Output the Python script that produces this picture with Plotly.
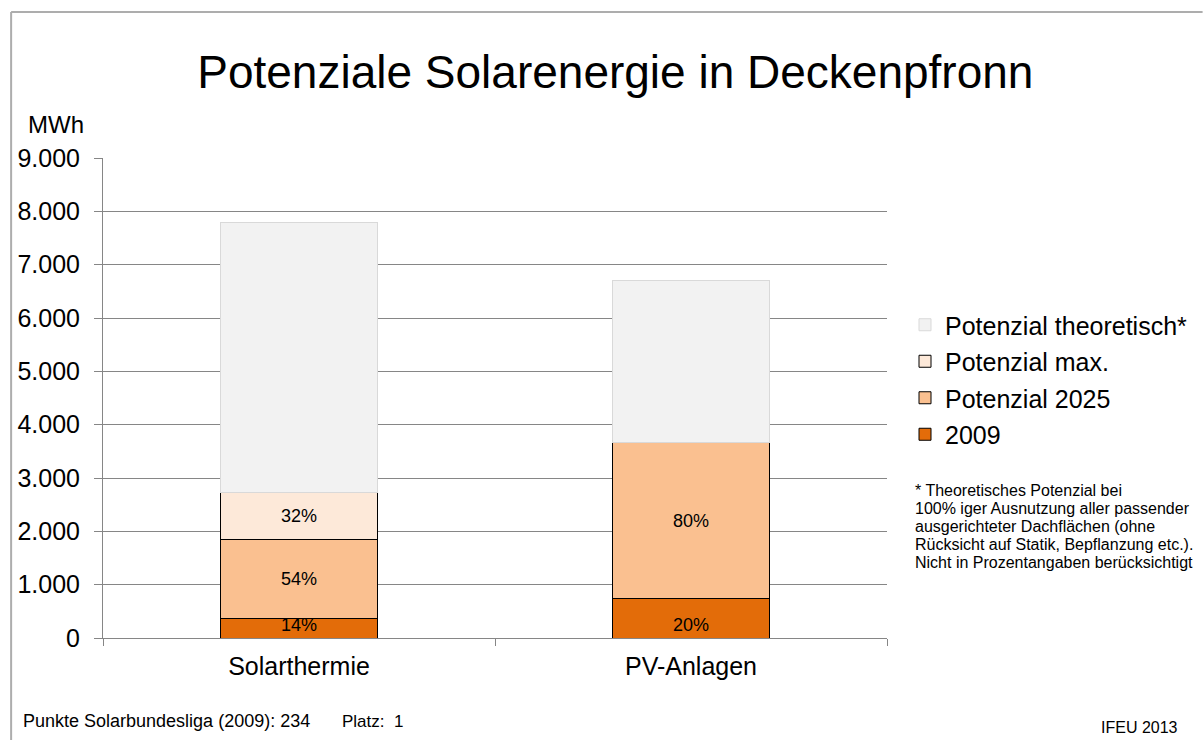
import plotly.graph_objects as go

categories = ["Solarthermie", "PV-Anlagen"]
v2009 = [370, 732]
v2025 = [1486, 2930]
vmax = [869, 0]
vtheo = [5063, 3032]
lbl2009 = ["14%", "20%"]
lbl2025 = ["54%", "80%"]
lblmax = ["32%", ""]
y_ticks = [0, 1000, 2000, 3000, 4000, 5000, 6000, 7000, 8000, 9000]
foot_lines = ["* Theoretisches Potenzial bei",
              "100% iger Ausnutzung aller passender",
              "ausgerichteter Dachflächen (ohne",
              "Rücksicht auf Statik, Bepflanzung etc.).",
              "Nicht in Prozentangaben berücksichtigt"]

FONT = "Liberation Sans, Arial, sans-serif"

W, H = 1204, 740
L, R, T, B = 103, 888, 158, 638
pw, ph = R - L, B - T


def px(x):
    return (x - L) / pw


def py(y):
    return (B - y) / ph


fig = go.Figure()
common = dict(width=0.4, textposition="inside", textangle=0, constraintext="none",
              textfont=dict(family=FONT, size=18, color="#000000"),
              insidetextanchor="middle", hoverinfo="skip")
fig.add_trace(go.Bar(x=categories, y=v2009, name="2009", text=lbl2009,
                     marker=dict(color="#E36C09", line=dict(color="#000000", width=1)),
                     legendgroup="a", legendrank=4,
                     **{**common, "insidetextanchor": "start"}))
fig.add_trace(go.Bar(x=categories, y=v2025, name="Potenzial 2025", text=lbl2025,
                     marker=dict(color="#FAC090", line=dict(color="#000000", width=1)),
                     legendgroup="b", legendrank=3, **common))
fig.add_trace(go.Bar(x=categories, y=vmax, name="Potenzial max.", text=lblmax,
                     marker=dict(color="#FDE9D9", line=dict(color="#000000", width=1)),
                     legendgroup="c", legendrank=2, **common))
fig.add_trace(go.Bar(x=categories, y=vtheo, name="Potenzial theoretisch*",
                     marker=dict(color="#F2F2F2", line=dict(color="#D9D9D9", width=1)),
                     legendgroup="d", legendrank=1, hoverinfo="skip"))

fig.update_layout(
    width=W, height=H,
    margin=dict(l=L, r=W - R, t=T, b=H - B, pad=0),
    barmode="stack",
    bargap=0.6,
    paper_bgcolor="white", plot_bgcolor="white",
    separators=",.",
    font=dict(family=FONT, color="#000000"),
    showlegend=True,
    legend=dict(x=px(905), xanchor="left", y=py(302), yanchor="top",
                traceorder="grouped", tracegroupgap=1,
                font=dict(family=FONT, size=25, color="#000000"),
                bgcolor="rgba(0,0,0,0)"),
    xaxis=dict(type="category", tickson="boundaries", showline=True, linecolor="#868686",
               linewidth=1, ticks="outside", ticklen=7, tickcolor="#868686",
               showgrid=False, tickfont=dict(family=FONT, size=25, color="#000000"),
               ticklabelstandoff=6),
    yaxis=dict(range=[0, 9000], tickvals=y_ticks, tickformat=",d", showline=True,
               linecolor="#868686", linewidth=1, ticks="outside", ticklen=8,
               tickcolor="#868686", showgrid=True, gridcolor="#868686", gridwidth=1,
               zeroline=False,
               tickfont=dict(family=FONT, size=25, color="#000000"),
               ticklabelstandoff=9),
    title=dict(text="Potenziale Solarenergie in Deckenpfronn", x=px(616), xanchor="center",
               xref="paper", y=1 - 72 / H, yanchor="middle",
               font=dict(family=FONT, size=46, color="#000000")),
)

line_col = "#ADADAD"
fig.add_shape(type="line", xref="paper", yref="paper", x0=px(11), x1=px(11),
              y0=py(12), y1=py(745), line=dict(color=line_col, width=2))
fig.add_shape(type="line", xref="paper", yref="paper", x0=px(11), x1=px(1204),
              y0=py(12), y1=py(12), line=dict(color=line_col, width=2))

fig.add_annotation(text="MWh", xref="paper", yref="paper", x=px(26), y=py(124),
                   xanchor="left", yanchor="middle", showarrow=False,
                   font=dict(family=FONT, size=24, color="#000000"))

for i, ln in enumerate(foot_lines):
    fig.add_annotation(text=ln, xref="paper", yref="paper", x=px(914), y=py(490 + 18 * i),
                       xanchor="left", yanchor="middle", align="left", showarrow=False,
                       font=dict(family=FONT, size=16, color="#000000"))

fig.add_annotation(text="Punkte Solarbundesliga (2009): 234", xref="paper",
                   yref="paper", x=px(21), y=py(721), xanchor="left", yanchor="middle",
                   showarrow=False, font=dict(family=FONT, size=18, color="#000000"))
fig.add_annotation(text="Platz:  1", xref="paper",
                   yref="paper", x=px(340), y=py(721), xanchor="left", yanchor="middle",
                   showarrow=False, font=dict(family=FONT, size=17, color="#000000"))
fig.add_annotation(text="IFEU 2013", xref="paper", yref="paper", x=px(1181), y=py(727),
                   xanchor="right", yanchor="middle", showarrow=False,
                   font=dict(family=FONT, size=16, color="#000000"))

fig.write_html("out.html", config={"displayModeBar": False},
               post_script="document.body.style.margin='0';document.body.style.padding='0';")
